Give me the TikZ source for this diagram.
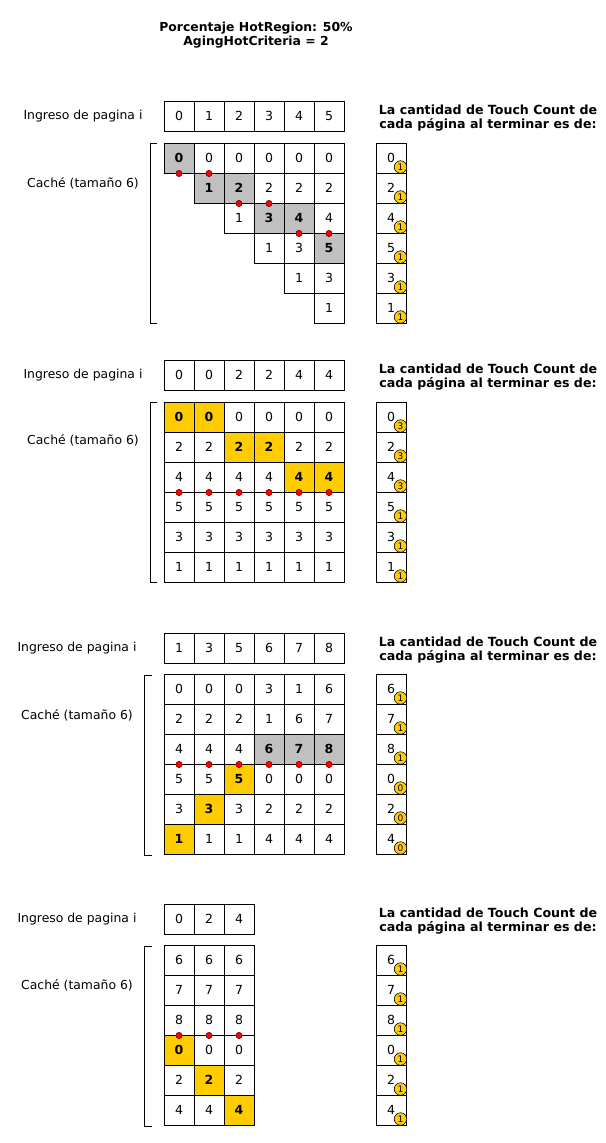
\documentclass[tikz,border=0pt]{standalone}
\usepackage{fontspec}
\setmainfont{DejaVu Sans}
\usepackage{tikz}
\usetikzlibrary{positioning,calc}
\definecolor{amarillo}{HTML}{FFCC00}
\definecolor{grisc}{HTML}{C0C0C0}
\definecolor{rojo}{HTML}{FF0000}

\begin{document}
\begin{tikzpicture}[x=1pt, y=-1pt, line width=0.9pt]
    \tikzstyle{celda} = [rectangle, draw=black, minimum size=30pt, inner sep=0pt, font=\fontsize{12.5}{14}\selectfont]
    \tikzstyle{gris} = [celda, fill=grisc, font=\fontsize{12.5}{14}\selectfont\bfseries]
    \tikzstyle{caliente} = [celda, fill=amarillo, font=\fontsize{12.5}{14}\selectfont\bfseries]
    \tikzstyle{punto} = [circle, draw=black!60!red, fill=rojo, inner sep=0pt, minimum size=6.3pt, line width=0.5pt]
    \tikzstyle{toque} = [circle, draw=black, fill=amarillo, inner sep=0pt, minimum size=12.5pt, line width=0.6pt, font=\fontsize{9}{9}\selectfont]
    \tikzstyle{rotulo} = [font=\fontsize{12.4}{14}\selectfont]
    \tikzstyle{titulo} = [align=center, font=\fontsize{12.4}{14}\selectfont\bfseries]

    \useasboundingbox (0,0) rectangle (605,1143);

    \node[titulo] (titulo) at (256,35) {Porcentaje HotRegion: 50\%\\AgingHotCriteria = 2};

    % paso 1
    \node[rotulo] (a-ingreso) at (83,116) {Ingreso de pagina i};
    \node[rotulo] (a-cache) at (83,183) {Caché (tamaño 6)};
    \node[titulo, font=\fontsize{12.6}{14}\selectfont\bfseries] (a-texto) at (488,118) {La cantidad de Touch Count de\\cada página al terminar es de:};
    \foreach \v [count=\c from 0] in {0,1,2,3,4,5}
        \node[celda] (a-in-\c) at (179+30*\c,116) {\v};
    \foreach \r/\ini/\fila in {0/0/{0/gris,0/celda,0/celda,0/celda,0/celda,0/celda},
                              1/1/{1/gris,2/gris,2/celda,2/celda,2/celda},
                              2/2/{1/celda,3/gris,4/gris,4/celda},
                              3/3/{1/celda,3/celda,5/gris},
                              4/4/{1/celda,3/celda},
                              5/5/{1/celda}}
        \foreach \v/\s [count=\c from \ini] in \fila
            \node[\s] (a-\r-\c) at (179+30*\c,158+30*\r) {\v};
    \foreach \r/\c in {0/0,0/1,1/2,1/3,2/4,2/5}
        \node[punto] (a-p-\r-\c) at (a-\r-\c.south) {};
    \foreach \v/\t [count=\r from 0] in {0/1,2/1,4/1,5/1,3/1,1/1} {
        \node[celda] (a-t-\r) at (391,158+30*\r) {\v};
        \node[toque, xshift=9.5pt, yshift=-9pt] (a-tc-\r) at (a-t-\r) {\t};
    }
    \draw (157,143) -- (150,143) -- (150,323) -- (157,323);

    % paso 2
    \node[rotulo] (b-ingreso) at (83,375) {Ingreso de pagina i};
    \node[rotulo] (b-cache) at (83,440) {Caché (tamaño 6)};
    \node[titulo, font=\fontsize{12.6}{14}\selectfont\bfseries] (b-texto) at (488,377) {La cantidad de Touch Count de\\cada página al terminar es de:};
    \foreach \v [count=\c from 0] in {0,0,2,2,4,4}
        \node[celda] (b-in-\c) at (179+30*\c,375) {\v};
    \foreach \r/\fila in {0/{0/caliente,0/caliente,0/celda,0/celda,0/celda,0/celda},
                         1/{2/celda,2/celda,2/caliente,2/caliente,2/celda,2/celda},
                         2/{4/celda,4/celda,4/celda,4/celda,4/caliente,4/caliente},
                         3/{5/celda,5/celda,5/celda,5/celda,5/celda,5/celda},
                         4/{3/celda,3/celda,3/celda,3/celda,3/celda,3/celda},
                         5/{1/celda,1/celda,1/celda,1/celda,1/celda,1/celda}}
        \foreach \v/\s [count=\c from 0] in \fila
            \node[\s] (b-\r-\c) at (179+30*\c,417+30*\r) {\v};
    \foreach \c in {0,...,5}
        \node[punto] (b-p-\c) at (b-2-\c.south) {};
    \foreach \v/\t [count=\r from 0] in {0/3,2/3,4/3,5/1,3/1,1/1} {
        \node[celda] (b-t-\r) at (391,417+30*\r) {\v};
        \node[toque, xshift=9.5pt, yshift=-9pt] (b-tc-\r) at (b-t-\r) {\t};
    }
    \draw (157,402) -- (150,402) -- (150,582) -- (157,582);

    % paso 3
    \node[rotulo] (c-ingreso) at (77,648) {Ingreso de pagina i};
    \node[rotulo] (c-cache) at (77,715) {Caché (tamaño 6)};
    \node[titulo, font=\fontsize{12.6}{14}\selectfont\bfseries] (c-texto) at (488,650) {La cantidad de Touch Count de\\cada página al terminar es de:};
    \foreach \v [count=\c from 0] in {1,3,5,6,7,8}
        \node[celda] (c-in-\c) at (179+30*\c,648) {\v};
    \foreach \r/\fila in {0/{0/celda,0/celda,0/celda,3/celda,1/celda,6/celda},
                         1/{2/celda,2/celda,2/celda,1/celda,6/celda,7/celda},
                         2/{4/celda,4/celda,4/celda,6/gris,7/gris,8/gris},
                         3/{5/celda,5/celda,5/caliente,0/celda,0/celda,0/celda},
                         4/{3/celda,3/caliente,3/celda,2/celda,2/celda,2/celda},
                         5/{1/caliente,1/celda,1/celda,4/celda,4/celda,4/celda}}
        \foreach \v/\s [count=\c from 0] in \fila
            \node[\s] (c-\r-\c) at (179+30*\c,689+30*\r) {\v};
    \foreach \c in {0,...,5}
        \node[punto] (c-p-\c) at (c-2-\c.south) {};
    \foreach \v/\t [count=\r from 0] in {6/1,7/1,8/1,0/0,2/0,4/0} {
        \node[celda] (c-t-\r) at (391,689+30*\r) {\v};
        \node[toque, xshift=9.5pt, yshift=-9pt] (c-tc-\r) at (c-t-\r) {\t};
    }
    \draw (152,675) -- (144,675) -- (144,855) -- (152,855);

    % paso 4
    \node[rotulo] (d-ingreso) at (77,919) {Ingreso de pagina i};
    \node[rotulo] (d-cache) at (77,985) {Caché (tamaño 6)};
    \node[titulo, font=\fontsize{12.6}{14}\selectfont\bfseries] (d-texto) at (488,921) {La cantidad de Touch Count de\\cada página al terminar es de:};
    \foreach \v [count=\c from 0] in {0,2,4}
        \node[celda] (d-in-\c) at (179+30*\c,919) {\v};
    \foreach \r/\fila in {0/{6/celda,6/celda,6/celda},
                         1/{7/celda,7/celda,7/celda},
                         2/{8/celda,8/celda,8/celda},
                         3/{0/caliente,0/celda,0/celda},
                         4/{2/celda,2/caliente,2/celda},
                         5/{4/celda,4/celda,4/caliente}}
        \foreach \v/\s [count=\c from 0] in \fila
            \node[\s] (d-\r-\c) at (179+30*\c,960+30*\r) {\v};
    \foreach \c in {0,...,2}
        \node[punto] (d-p-\c) at (d-2-\c.south) {};
    \foreach \v/\t [count=\r from 0] in {6/1,7/1,8/1,0/1,2/1,4/1} {
        \node[celda] (d-t-\r) at (391,960+30*\r) {\v};
        \node[toque, xshift=9.5pt, yshift=-9pt] (d-tc-\r) at (d-t-\r) {\t};
    }
    \draw (152,946) -- (144,946) -- (144,1126) -- (152,1126);
\end{tikzpicture}
\end{document}
